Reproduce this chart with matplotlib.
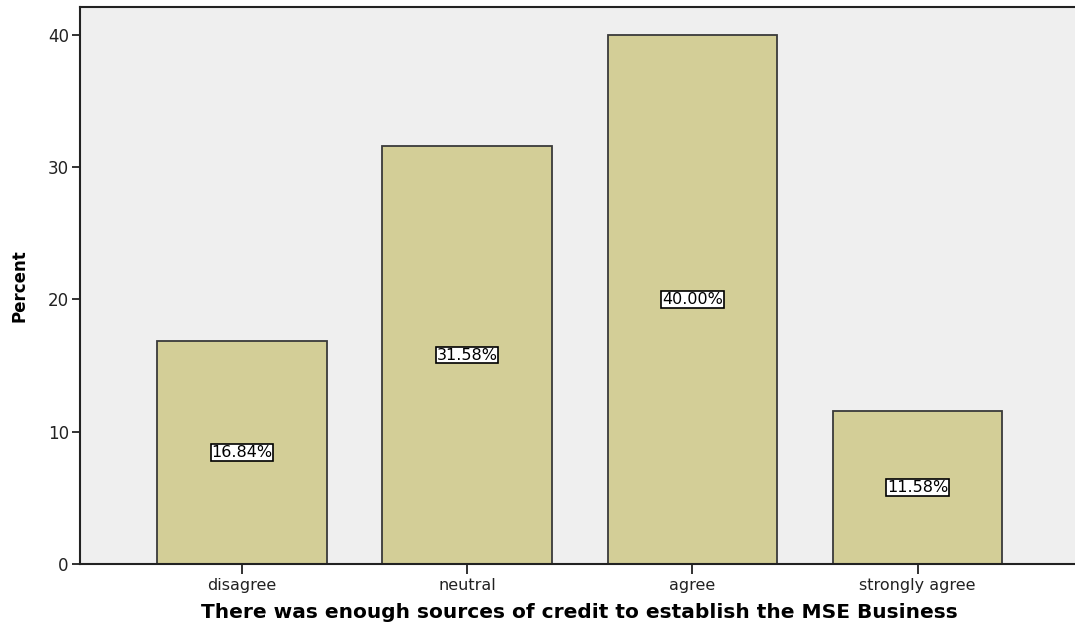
import matplotlib
matplotlib.use("Agg")
import matplotlib.pyplot as plt

categories = ["disagree", "neutral", "agree", "strongly agree"]
percents = [16.84, 31.58, 40.00, 11.58]
y_ticks = [0, 10, 20, 30, 40]

fig = plt.figure(figsize=(10.75, 6.23), dpi=100)
fig.patch.set_facecolor("white")
ax = fig.add_axes([0.0744, 0.0947, 0.93, 0.8941])
ax.set_facecolor("#EFEFEF")

x = list(range(len(categories)))
ax.bar(x, percents, width=0.753, color="#D3CE97", edgecolor="#3a3a3a",
       linewidth=1.3, zorder=2)

for xi, v in zip(x, percents):
    ax.text(xi, v / 2, f"{v:.2f}%", ha="center", va="center", fontsize=11.5,
            color="black", zorder=3,
            bbox=dict(boxstyle="square,pad=0.04", facecolor="white",
                      edgecolor="black", linewidth=1.2))

ax.set_xlim(-0.72, 3.72)
ax.set_ylim(0, 42.1)
ax.set_yticks(y_ticks)
ax.set_xticks(x)
ax.set_xticklabels(categories, fontsize=11.5, color="#222222")
ax.tick_params(axis="y", labelsize=12, length=6, width=1.3, pad=2,
               colors="#222222")
ax.tick_params(axis="x", length=7, width=1.3, pad=3, colors="#222222")

for side in ["left", "bottom", "top"]:
    ax.spines[side].set_linewidth(1.5)
    ax.spines[side].set_color("#222222")
ax.spines["right"].set_visible(False)

ax.set_xlabel("There was enough sources of credit to establish the MSE Business",
              fontsize=14.5, fontweight="bold", labelpad=7, color="black")
ax.set_ylabel("Percent", fontsize=12, fontweight="bold", labelpad=14,
              color="black")

fig.savefig("out.png", dpi=100)
